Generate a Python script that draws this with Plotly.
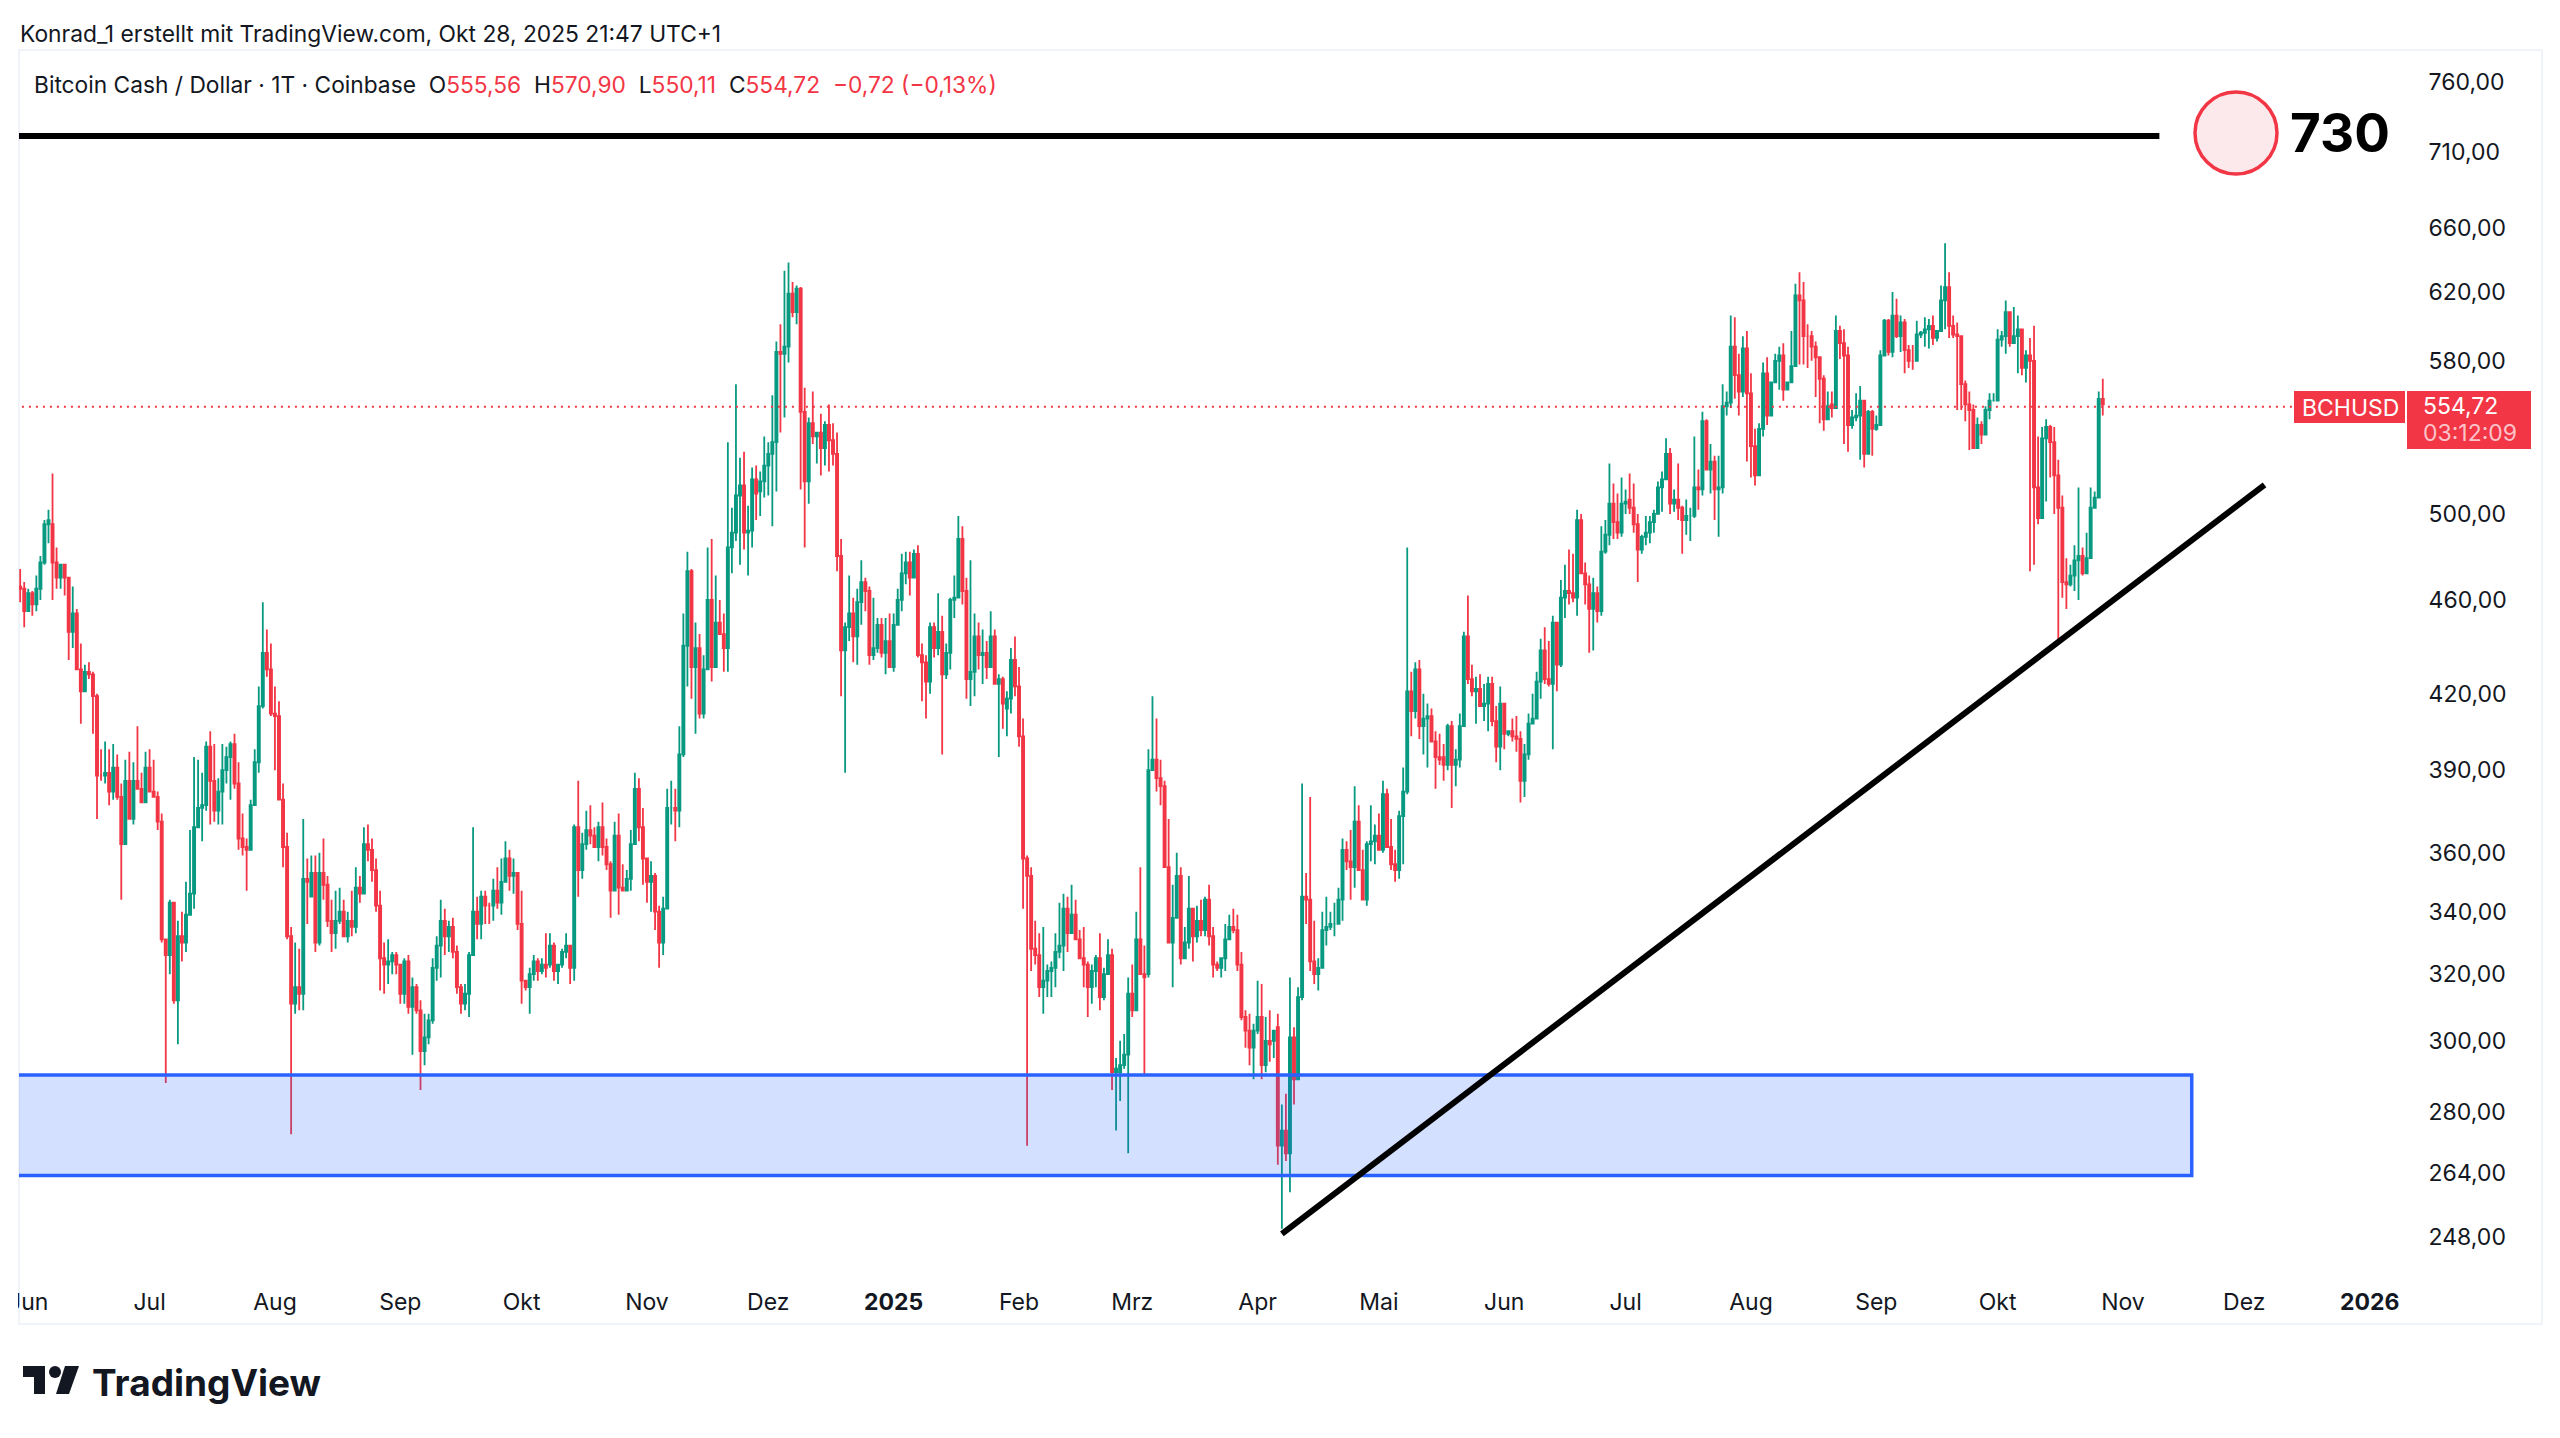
import pandas as pd
import plotly.graph_objects as go

# the page body keeps its 8px margin, so the figure is 16px smaller than the window
W, H = 2544, 1422
OFFSET = 8
RED = "#F23645"
GREEN = "#089981"
BLUE = "#2962FF"
INK = "#131722"
FONT = "Inter"

# daily candles
start_date = "2024-05-30"
end_date = "2025-10-28"

opens = [
    466,465,455,463,458,465,477,495,495,477, 470,476,470,446,454,430,421,429,428,419,
    388,388,389,382,391,380,363,386,372,386, 383,378,391,382,380,371,331,326,343,312,
    332,330,339,346,369,376,377,399,386,375, 382,390,395,400,385,365,362,361,377,393,
    415,437,430,412,411,379,362,332,311,316, 314,351,345,353,330,353,349,337,333,337,
    340,332,337,335,348,346,363,361,354,342, 325,323,324,326,323,314,324,310,316,309,
    297,301,306,322,329,337,332,335,327,316, 311,314,326,340,336,345,342,342,347,343,
    350,358,352,353,336,318,316,320,324,321, 323,323,329,321,323,327,329,322,369,354,
    363,368,366,362,369,362,356,347,366,348, 347,351,363,383,369,358,350,352,340,330,
    341,376,376,375,396,440,473,431,439,412, 430,460,431,450,445,439,484,491,509,514,
    491,492,517,511,516,524,530,536,585,584, 588,619,608,622,552,516,546,539,541,533,
    545,537,530,480,438,448,454,444,459,468, 464,436,439,449,437,442,431,449,460,472,
    477,470,481,436,433,425,448,439,446,428, 437,460,461,488,464,426,429,444,436,437,
    431,444,424,426,414,418,434,423,403,358, 352,328,326,316,318,321,322,327,329,341,
    333,339,331,325,323,316,321,325,313,320, 326,291,291,293,296,314,309,331,320,320,
    390,394,387,384,355,330,338,352,325,330, 341,332,337,334,344,332,323,322,325,331,
    335,334,323,307,303,298,303,307,293,300, 300,304,271,275,269,301,289,313,345,344,
    324,320,322,334,335,336,336,344,361,357, 355,371,354,344,363,364,366,361,381,362,
    356,354,373,382,421,413,430,407,410,411, 401,395,395,392,407,392,394,407,444,426,
    421,422,415,416,424,409,399,416,404,405, 403,402,386,396,408,410,425,438,426,424,
    450,432,461,464,463,461,497,472,467,456, 463,455,482,490,505,496,491,505,507,503,
    495,483,489,491,496,500,513,517,530,505, 507,503,497,499,499,513,512,547,522,526,
    512,513,555,557,588,572,563,587,562,534, 519,543,573,550,568,580,583,564,568,577,
    618,615,594,594,588,582,570,548,556,554, 597,590,583,545,549,550,558,530,552,543,
    545,583,603,585,606,594,602,586,580,580, 595,596,598,600,593,597,615,623,600,595,
    594,567,556,553,533,545,540,553,558,558, 592,594,608,590,594,598,576,583,580,513,
    498,538,544,536,519,503,468,467,471,478, 480,472,479,503,508,559,555.56,
]
highs = [
    474,468,465,464,471,480,497,502,520,484, 476,474,469,466,456,441,432,433,429,420,
    398,401,398,400,396,385,394,397,393,407, 389,397,398,394,382,374,331,344,343,337,
    340,350,368,395,394,389,401,405,400,387, 400,399,401,404,393,374,365,379,398,423,
    459,447,441,423,417,385,367,335,330,328, 372,358,359,359,360,365,352,344,347,348,
    344,340,347,355,352,369,370,365,358,347, 330,331,327,327,323,325,326,319,317,312,
    308,308,325,332,344,341,337,338,329,317, 317,327,369,345,347,347,343,351,355,358,
    364,361,358,353,347,317,322,326,325,325, 333,333,330,323,328,333,329,370,386,367,
    375,377,369,371,378,365,357,371,374,356, 354,368,389,387,376,357,357,353,342,345,
    383,386,383,407,454,482,474,450,445,436, 484,488,471,460,454,536,503,567,528,531,
    504,523,524,521,539,536,561,591,601,633, 638,626,624,623,565,549,563,541,551,547,
    556,546,541,488,450,471,461,465,478,470, 466,461,452,452,452,454,454,465,481,482,
    482,483,485,441,436,450,450,463,453,441, 461,471,499,494,470,478,454,450,447,442,
    455,447,428,427,421,439,444,431,410,359, 355,337,333,335,323,324,333,343,346,345,
    349,344,334,335,324,323,326,333,322,331, 328,295,300,302,319,323,340,355,329,398,
    419,410,394,386,372,349,360,355,335,352, 341,342,344,345,349,335,324,325,336,339,
    341,339,327,309,308,305,318,317,307,309, 303,308,282,285,319,304,316,385,353,380,
    337,325,340,345,340,343,348,365,364,368, 384,377,361,364,377,370,374,386,383,372,
    361,375,391,484,429,433,434,420,416,414, 405,404,400,408,409,398,412,446,462,432,
    427,428,424,427,427,415,423,415,405,410, 411,405,400,412,420,429,443,448,442,453,
    449,469,476,483,481,502,500,477,471,470, 466,494,497,525,515,510,518,512,520,515,
    500,490,499,499,502,516,521,538,533,512, 525,504,507,503,539,522,552,548,535,529,
    529,567,563,606,605,584,594,597,573,543, 546,579,582,568,584,588,590,568,597,625,
    632,626,601,597,591,581,572,563,563,606, 600,598,588,553,562,566,558,553,553,550,
    586,604,604,620,616,606,604,589,589,603, 597,605,604,606,597,624,650,632,606,602,
    593,569,563,556,549,547,555,562,562,598, 597,615,608,611,606,598,586,593,600,539,
    544,548,545,544,527,509,479,476,485,513, 484,491,513,511,563,570,570.90,
]
lows = [
    459,448,455,453,455,460,476,486,460,465, 465,462,434,439,430,408,422,426,404,372,
    386,385,377,379,379,344,364,373,370,384, 378,379,382,381,368,330,288,320,311,299,
    324,327,340,341,369,364,375,370,371,370, 370,385,379,383,361,359,347,361,377,389,
    414,427,411,390,379,355,331,274,308,309, 309,336,346,327,329,344,335,327,328,336,
    332,330,332,333,343,347,357,350,340,315, 314,317,320,320,311,311,308,296,308,286,
    293,299,305,318,319,326,327,325,314,308, 309,307,326,331,331,336,336,337,341,339,
    352,347,346,334,311,315,308,318,318,320, 319,322,318,317,322,325,317,318,345,351,
    361,363,363,357,359,354,338,347,339,347, 347,347,367,364,349,343,340,334,322,326,
    342,370,364,369,395,423,418,404,410,410, 432,425,431,447,429,429,472,487,476,483,
    471,484,497,499,508,509,494,511,541,549, 579,605,601,512,484,505,535,525,519,524,
    521,524,473,419,389,442,433,432,449,455, 432,434,437,435,428,432,429,449,455,467,
    462,471,435,417,410,420,435,436,396,426, 430,452,461,458,418,415,419,430,424,426,
    431,425,395,406,403,412,419,399,341,271, 321,323,313,308,313,313,316,325,321,327,
    334,331,325,316,307,311,316,309,312,320, 286,275,283,292,269,307,309,320,290,319,
    391,382,377,355,330,316,338,323,325,328, 324,330,332,332,329,319,321,319,321,331,
    333,321,306,298,293,289,302,289,291,294, 295,266,250,267,259,282,289,312,336,321,
    317,315,322,329,334,332,336,337,354,344, 348,356,346,342,357,356,361,360,363,354,
    350,351,356,381,403,410,402,396,391,402, 383,392,386,390,376,384,391,408,424,419,
    408,419,409,405,407,393,390,398,403,401, 397,378,380,394,409,411,418,424,423,398,
    421,431,452,458,459,453,472,458,437,438, 450,453,481,485,488,488,489,500,500,491,
    468,481,485,486,491,500,501,518,500,501, 497,481,490,487,498,502,509,522,510,497,
    489,510,550,554,559,550,560,526,518,514, 543,539,545,566,572,564,558,568,575,578,
    578,578,576,580,560,546,542,549,549,583, 581,535,531,543,547,527,523,541,529,542,
    577,583,583,582,593,585,573,576,575,586, 593,588,587,589,591,611,598,593,593,553,
    553,547,532,534,541,535,549,548,558,582, 588,584,588,591,573,572,568,473,476,495,
    530,506,518,500,442,461,456,466,464,460, 471,477,495,507,551,550.11,
]
closes = [
    465,455,463,458,465,477,495,497,477,470, 476,470,446,454,430,421,429,428,419,388,
    388,389,382,391,380,363,386,372,386,383, 378,391,382,380,371,331,326,343,312,332,
    330,339,346,369,376,377,399,386,375,382, 390,395,400,385,365,362,361,377,393,415,
    437,430,412,411,379,362,332,311,316,314, 351,350,353,330,353,349,337,333,337,340,
    332,337,335,348,346,363,361,354,342,325, 323,324,326,323,314,324,310,316,309,297,
    301,306,322,329,337,332,335,327,316,311, 314,326,340,336,345,342,342,347,343,350,
    358,352,353,336,318,316,320,324,321,323, 322,329,321,323,327,329,322,369,354,363,
    368,366,362,369,362,356,347,366,348,347, 351,363,383,369,358,350,352,340,330,341,
    376,376,375,396,440,473,431,439,412,430, 460,431,450,445,439,484,491,509,514,491,
    492,517,510,516,524,530,536,585,584,588, 619,608,622,552,516,546,539,541,533,545,
    537,530,480,438,448,454,444,459,468,464, 436,439,449,437,442,431,449,460,472,477,
    470,481,436,433,425,448,439,446,428,437, 460,461,488,464,426,429,444,436,437,431,
    444,424,426,416,418,434,423,403,358,352, 328,326,316,318,321,322,327,329,341,333,
    339,331,325,323,316,321,325,313,320,326, 291,292,293,296,314,309,331,320,319,390,
    394,387,384,355,330,338,352,325,330,341, 332,337,334,344,332,323,322,325,331,335,
    334,323,307,303,298,303,307,293,300,299, 303,271,275,269,301,289,313,345,344,324,
    320,322,334,335,336,336,344,361,357,355, 371,354,344,363,364,366,361,381,362,356,
    354,373,382,421,413,430,407,410,411,401, 395,394,392,407,392,394,407,444,426,421,
    422,415,416,424,409,399,416,404,405,403, 402,386,396,408,410,425,438,426,424,450,
    432,461,464,463,461,497,472,467,456,463, 455,482,490,505,496,491,505,506,503,495,
    483,489,491,496,500,513,517,530,505,507, 503,497,499,499,513,512,547,522,526,512,
    513,555,557,588,572,563,587,562,534,519, 543,573,550,568,580,583,564,568,577,618,
    615,594,594,588,582,570,548,555,554,597, 590,583,545,549,550,558,530,552,543,545,
    583,603,585,606,594,602,586,580,580,595, 596,598,600,593,597,615,623,600,595,594,
    567,556,553,533,545,540,553,558,558,592, 594,608,590,594,598,576,583,580,513,498,
    538,544,536,519,503,468,467,471,478,480, 472,479,503,508,559,556,554.72,
]

# price scale
y_ticks = [760, 710, 660, 620, 580, 500, 460, 420, 390, 360, 340, 320, 300, 280, 264, 248]
y_labels = ["760,00", "710,00", "660,00", "620,00", "580,00", "500,00", "460,00", "420,00",
            "390,00", "360,00", "340,00", "320,00", "300,00", "280,00", "264,00", "248,00"]

# time scale
x_ticks = ["2024-06-01", "2024-07-01", "2024-08-01", "2024-09-01", "2024-10-01", "2024-11-01",
           "2024-12-01", "2025-01-01", "2025-02-01", "2025-03-01", "2025-04-01", "2025-05-01",
           "2025-06-01", "2025-07-01", "2025-08-01", "2025-09-01", "2025-10-01", "2025-11-01",
           "2025-12-01", "2026-01-01"]
x_labels = ["Jun", "Jul", "Aug", "Sep", "Okt", "Nov", "Dez", "<b>2025</b>", "Feb", "Mrz", "Apr", "Mai",
            "Jun", "Jul", "Aug", "Sep", "Okt", "Nov", "Dez", "<b>2026</b>"]

# drawings on the chart
resistance_x = ["2024-05-01", "2025-11-10"]
resistance_y = [721.2, 721.2]
trend_x = ["2025-04-07", "2025-12-06"]
trend_y = [248.8, 514.3]
zone_x = ["2024-05-01", "2025-11-18", "2025-11-18", "2024-05-01", "2024-05-01"]
zone_y = [290.2, 290.2, 263.3, 263.3, 290.2]
last_price = 554.72
last_x = ["2024-05-01", "2025-12-13 18:00"]


# window pixels to paper coordinates
def px(x):
    return (x - OFFSET) / W


def py(y):
    return 1 - (y - OFFSET) / H


def label(text, x, y, size, color=INK, anchor="left", bold=False):
    if bold:
        text = "<b>" + text + "</b>"
    return dict(text=text, x=px(x), y=py(y), xref="paper", yref="paper", xanchor=anchor, yanchor="middle",
                showarrow=False, font=dict(family=FONT, size=size, color=color))


def box(x0, y0, x1, y1, fill, line=None, width=0, layer="below"):
    return dict(type="rect", xref="paper", yref="paper", x0=px(x0), x1=px(x1), y0=py(y0), y1=py(y1),
                fillcolor=fill, line=dict(color=line, width=width), layer=layer)


fig = go.Figure()
fig.add_trace(go.Candlestick(
    x=pd.date_range(start_date, end_date), open=opens, high=highs, low=lows, close=closes,
    increasing=dict(line=dict(color=GREEN, width=1.8), fillcolor=GREEN),
    decreasing=dict(line=dict(color=RED, width=1.8), fillcolor=RED),
    whiskerwidth=0, showlegend=False, hoverinfo="skip",
))
fig.add_trace(go.Scatter(x=last_x, y=[last_price, last_price], mode="lines",
                         line=dict(color=RED, width=2, dash="2px 5px"), hoverinfo="skip"))
fig.add_trace(go.Scatter(x=zone_x, y=zone_y, mode="lines", fill="toself", fillcolor="rgba(41,98,255,0.2)",
                         line=dict(color=BLUE, width=3.5), hoverinfo="skip"))
fig.add_trace(go.Scatter(x=resistance_x, y=resistance_y, mode="lines",
                         line=dict(color="black", width=6), hoverinfo="skip"))
fig.add_trace(go.Scatter(x=trend_x, y=trend_y, mode="lines",
                         line=dict(color="black", width=6), hoverinfo="skip"))

red_span = "<span style='color:%s'>%%s</span>" % RED
legend = ("Bitcoin Cash / Dollar · 1T · Coinbase &nbsp;O" + red_span % "555,56" + " &nbsp;H" + red_span % "570,90"
          + " &nbsp;L" + red_span % "550,11" + " &nbsp;C" + red_span % "554,72" + " &nbsp;" + red_span % "−0,72 (−0,13%)")

annotations = [
    label("Konrad_1 erstellt mit TradingView.com, Okt 28, 2025 21:47 UTC+1", 18, 34, 22.8),
    label(legend, 32, 85, 22.75),
    label("730", 2288, 133, 53, color="black", bold=True),
    label("BCHUSD", 2300, 408, 23, color="white"),
    label("554,72", 2421, 406, 23, color="white"),
    label("03:12:09", 2421, 433, 23, color="#FBC3C9"),
    label("TradingView", 90, 1382, 37, color=INK, bold=True),
]

shapes = [
    # pane frame
    dict(type="rect", xref="paper", yref="paper", x0=px(19), x1=px(2542), y0=py(50), y1=py(1324),
         line=dict(color="#F0F3FA", width=2), fillcolor="rgba(0,0,0,0)", layer="below"),
    # first month label is cut by the pane edge
    box(8, 1280, 18, 1320, "white", layer="above"),
    # price labels
    box(2294, 391, 2405, 423, RED, layer="above"),
    box(2407, 391, 2531, 449, RED, layer="above"),
    # alert marker
    dict(type="circle", xref="paper", yref="paper", x0=px(2195), x1=px(2277), y0=py(92), y1=py(174),
         fillcolor="#FCE9EB", line=dict(color=RED, width=3.5), layer="above"),
    # logo
    box(23, 1366, 45, 1377, INK, layer="above"),
    box(34, 1366, 45, 1394, INK, layer="above"),
    dict(type="circle", xref="paper", yref="paper", x0=px(49), x1=px(61), y0=py(1366), y1=py(1378),
         fillcolor=INK, line=dict(width=0), layer="above"),
    dict(type="path", xref="paper", yref="paper", layer="above", fillcolor=INK, line=dict(width=0),
         path="M %f %f L %f %f L %f %f L %f %f Z" % (px(65), py(1366), px(79), py(1366), px(69), py(1394), px(56), py(1394))),
]

fig.update_layout(
    width=W, height=H, margin=dict(l=0, r=0, t=0, b=0), autosize=False,
    paper_bgcolor="white", plot_bgcolor="white", showlegend=False, boxgap=0.25,
    hovermode=False, annotations=annotations, shapes=shapes,
    font=dict(family=FONT, color=INK, size=23),
    xaxis=dict(domain=[px(19), px(2415)], range=["2024-05-29 17:00", "2026-01-12 05:00"], type="date",
               automargin=False, rangeslider=dict(visible=False), showgrid=False, zeroline=False, showline=False,
               tickmode="array", tickvals=x_ticks, ticktext=x_labels, tickangle=0,
               ticks="outside", ticklen=1, tickcolor="rgba(0,0,0,0)", tickfont=dict(size=23)),
    yaxis=dict(domain=[py(1280), py(50)], type="log", side="right", range=[2.3764, 2.8943],
               automargin=False, showgrid=False, zeroline=False, showline=False,
               tickmode="array", tickvals=y_ticks, ticktext=y_labels,
               ticks="outside", ticklen=8, tickcolor="rgba(0,0,0,0)", tickfont=dict(size=23)),
)

fig.write_html("out.html")
